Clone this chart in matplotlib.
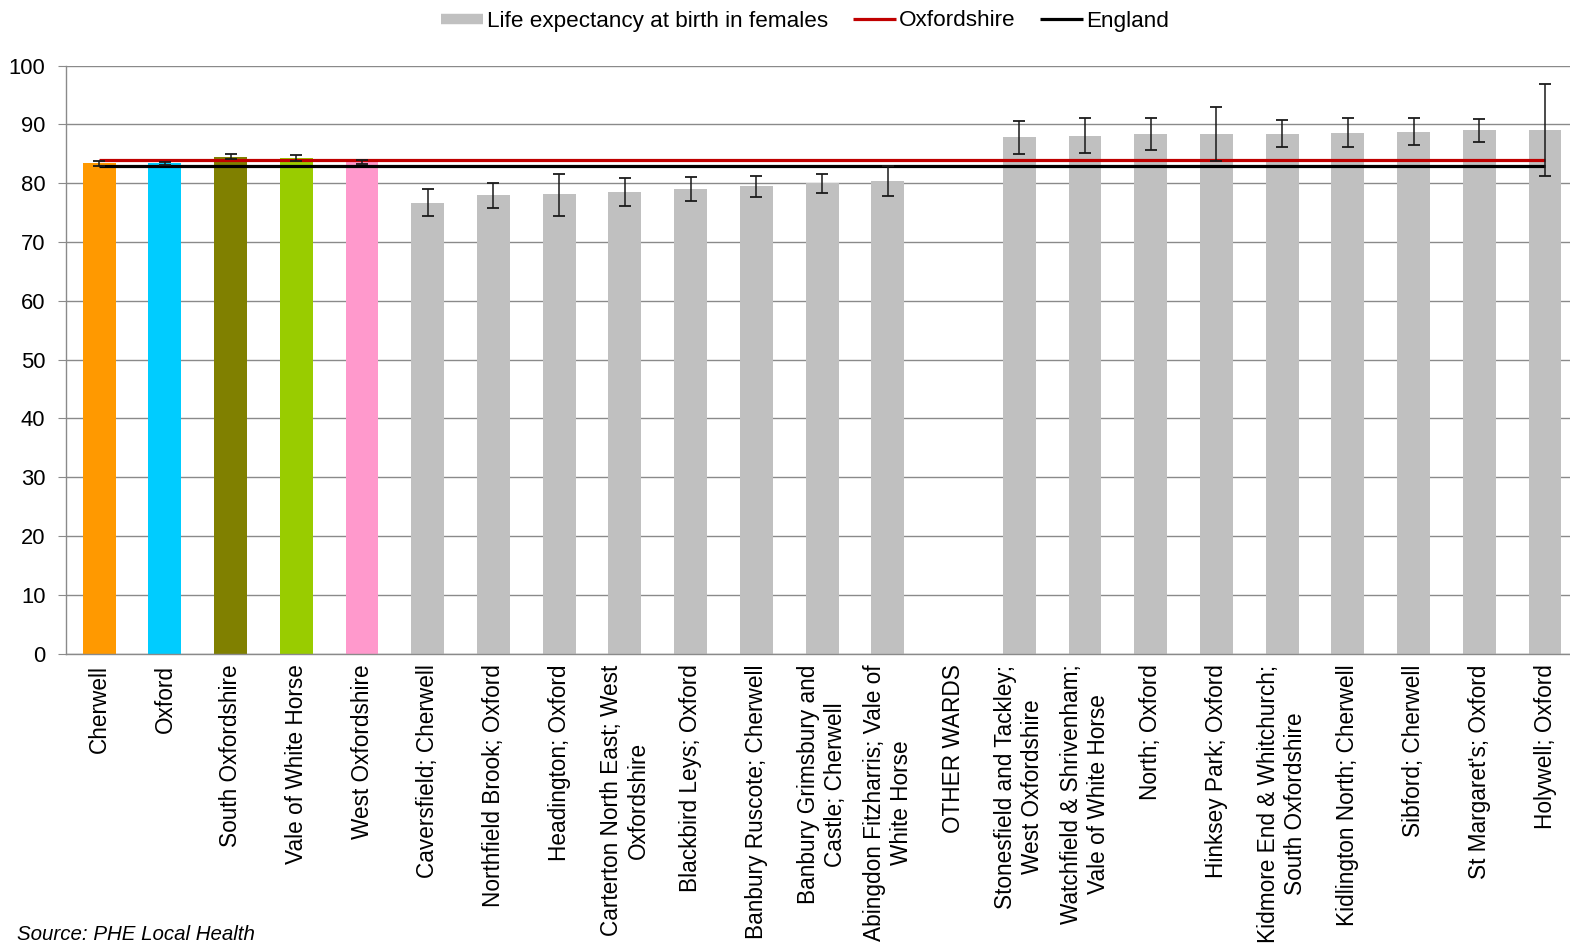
import numpy as np
import matplotlib
matplotlib.use("Agg")
import matplotlib.pyplot as plt
from matplotlib.lines import Line2D

plt.rcParams['font.family'] = ['Liberation Sans', 'DejaVu Sans']

categories = [
    "Cherwell", "Oxford", "South Oxfordshire", "Vale of White Horse", "West Oxfordshire",
    "Caversfield; Cherwell", "Northfield Brook; Oxford", "Headington; Oxford",
    "Carterton North East; West\nOxfordshire", "Blackbird Leys; Oxford",
    "Banbury Ruscote; Cherwell", "Banbury Grimsbury and\nCastle; Cherwell",
    "Abingdon Fitzharris; Vale of\nWhite Horse", "OTHER WARDS",
    "Stonesfield and Tackley;\nWest Oxfordshire", "Watchfield & Shrivenham;\nVale of White Horse",
    "North; Oxford", "Hinksey Park; Oxford", "Kidmore End & Whitchurch;\nSouth Oxfordshire",
    "Kidlington North; Cherwell", "Sibford; Cherwell", "St Margaret's; Oxford", "Holywell; Oxford",
]
life_expectancy = [83.4, 83.4, 84.5, 84.3, 83.6,
                   76.7, 78.0, 78.1, 78.5, 79.1, 79.5, 80.0, 80.4,
                   np.nan,
                   87.9, 88.0, 88.4, 88.4, 88.4, 88.6, 88.8, 89.0, 89.0]
ci_lower = [83.0, 83.1, 84.05, 83.85, 83.3,
            74.5, 75.8, 74.5, 76.2, 77.0, 77.7, 78.3, 77.9,
            np.nan,
            85.0, 85.2, 85.6, 83.8, 86.25, 86.1, 86.5, 87.0, 81.3]
ci_upper = [83.8, 83.7, 84.95, 84.75, 83.9,
            79.0, 80.1, 81.6, 80.9, 81.1, 81.3, 81.6, 82.9,
            np.nan,
            90.6, 91.1, 91.1, 93.0, 90.7, 91.1, 91.1, 90.9, 96.9]
oxfordshire_value = 83.9
england_value = 83.0

bar_colors = ["#FF9900", "#00CCFF", "#808000", "#99CC00", "#FF99CC"] + ["#C0C0C0"] * 18

W, H = 1570, 948
fig = plt.figure(figsize=(W / 100, H / 100), dpi=100)
ax = fig.add_axes([66.3 / W, 1 - 653.5 / H, (W - 66.3) / W, (653.5 - 65.7) / H])

x = np.arange(len(categories))
vals = np.array(life_expectancy, dtype=float)
lo = np.array(ci_lower, dtype=float)
hi = np.array(ci_upper, dtype=float)

ax.set_axisbelow(True)
ax.yaxis.grid(True, color="#8a8a8a", linewidth=1.0)
ax.bar(x, vals, width=0.5, color=bar_colors, zorder=2)

ax.plot([x[0], x[-1]], [oxfordshire_value] * 2, color="#C00000", linewidth=2.3, zorder=3,
        solid_capstyle='butt')
ax.plot([x[0], x[-1]], [england_value] * 2, color="#000000", linewidth=2.3, zorder=3,
        solid_capstyle='butt')

ax.errorbar(x, vals, yerr=[vals - lo, hi - vals], fmt='none', ecolor="#1a1a1a",
            elinewidth=1.1, capsize=4.3, capthick=1.3, zorder=4)

ax.set_xlim(-0.5, 22.38)
ax.set_ylim(0, 100)
ax.set_yticks(np.arange(0, 101, 10))
ax.set_xticks(x)
ax.set_xticklabels(categories, rotation=90, ha='center', va='top', multialignment='center',
                   fontsize=16.3)
ax.tick_params(axis='x', length=0, pad=8)
ax.tick_params(axis='y', length=6, color="#8a8a8a", pad=9, labelsize=15.8)

for s in ['top', 'right']:
    ax.spines[s].set_visible(False)
for s in ['left', 'bottom']:
    ax.spines[s].set_color("#8a8a8a")
    ax.spines[s].set_linewidth(1.0)

handles = [
    Line2D([0], [0], color="#C0C0C0", linewidth=7.5, solid_capstyle='butt'),
    Line2D([0], [0], color="#C00000", linewidth=2.3, solid_capstyle='butt'),
    Line2D([0], [0], color="#000000", linewidth=2.3, solid_capstyle='butt'),
]
labels = ["Life expectancy at birth in females", "Oxfordshire", "England"]
fig.legend(handles, labels, loc='center', bbox_to_anchor=(805 / W, 1 - 21 / H), ncol=3,
           frameon=False, fontsize=16.2, handlelength=1.9, handletextpad=0.15,
           columnspacing=1.1)

fig.text(17 / W, 1 - 935 / H, "Source: PHE Local Health", fontsize=14.8, style='italic',
         ha='left', va='center')

fig.savefig("out.png", dpi=100)
